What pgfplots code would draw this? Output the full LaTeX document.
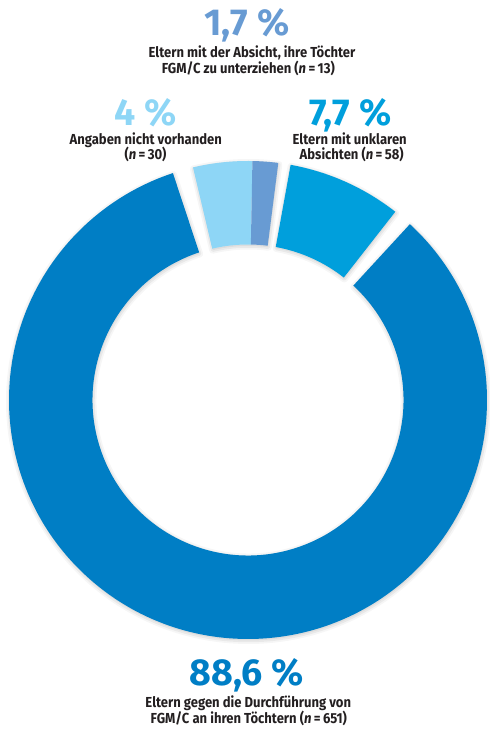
\documentclass[border=0pt]{standalone}
\usepackage{fontspec}
\setmainfont{Fira Sans}
\newfontfamily\labfont{Fira Sans}[FakeStretch=0.9]
\usepackage{pgfplots}
\pgfplotsset{compat=1.18}
\usepackage{pgfplotstable}
\definecolor{cAg}{RGB}{0,126,197}
\definecolor{cUnk}{RGB}{0,159,220}
\definecolor{cNV}{RGB}{142,214,246}
\definecolor{cInt}{RGB}{104,155,211}
\definecolor{txt}{RGB}{35,31,32}

\pgfplotstableread{
key n
nv 30
int 13
unk 58
ag 651
}\slices
\pgfplotstablegetelem{0}{n}\of\slices \let\nNV\pgfplotsretval
\pgfplotstablegetelem{1}{n}\of\slices \let\nInt\pgfplotsretval
\pgfplotstablegetelem{2}{n}\of\slices \let\nUnk\pgfplotsretval
\pgfplotstablegetelem{3}{n}\of\slices \let\nAg\pgfplotsretval
\pgfmathsetmacro\tot{\nNV+\nInt+\nUnk+\nAg}
\def\gA{3.0}\def\gB{4.6}\def\gC{5.0}
\pgfmathsetmacro\aA{103.3}
\pgfmathsetmacro\aB{\aA-\nNV/\tot*360}
\pgfmathsetmacro\aC{\aB-\nInt/\tot*360}
\pgfmathsetmacro\aD{\aC-\gA}
\pgfmathsetmacro\aE{\aD-\nUnk/\tot*360}
\pgfmathsetmacro\aF{\aE-\gB}
\pgfmathsetmacro\aG{\aF-\nAg/\tot*360+\gA+\gB+\gC}
\def\Ro{239bp}\def\Ri{155.5bp}
% #1 centre, #2 style, #3 start angle, #4 end angle
\newcommand\sector[4]{%
  \path[#2] ([shift={(#3:\Ro)}]#1) arc[start angle=#3, end angle=#4, radius=\Ro]
    -- ([shift={(#4:\Ri)}]#1) arc[start angle=#4, end angle=#3, radius=\Ri] -- cycle;}
\newcommand\shadowsector[2]{%
  \sector{CS}{fill=black,fill opacity=0.05,draw=black,draw opacity=0.035,line width=7bp,line join=round}{#1}{#2}%
  \sector{CS}{draw=black,draw opacity=0.05,line width=3.5bp,line join=round}{#1}{#2}}

\begin{document}
\begin{tikzpicture}
\begin{axis}[x=1bp,y=1bp,xmin=0,xmax=490,ymin=0,ymax=729,hide axis,clip=false,scale only axis]
\coordinate (BL) at (axis cs:0,0);
\coordinate (TR) at (axis cs:490,729);
\coordinate (C) at (axis cs:248,329);
\coordinate (CS) at (axis cs:248.5,327.5);
\shadowsector{\aA}{\aC}
\shadowsector{\aD}{\aE}
\shadowsector{\aF}{\aG}
\sector{C}{fill=cNV}{\aA}{\aB}
\sector{C}{fill=cInt}{\aB}{\aC}
\sector{C}{fill=cUnk}{\aD}{\aE}
\sector{C}{fill=cAg}{\aF}{\aG}
% percentages and labels
\tikzset{pct/.style={anchor=base,inner sep=0pt,text depth=0pt,font=\fontsize{37.5bp}{40bp}\selectfont\bfseries},
         lab/.style={anchor=base,inner sep=0pt,text height=10.5bp,text depth=1bp,text=txt,font=\labfont\fontsize{14.5bp}{16bp}\selectfont\bfseries}}
\node[pct,text=cInt] at (axis cs:247,693) {1,7 \%};
\node[lab] at (axis cs:252,671.7) {Eltern mit der Absicht, ihre Töchter};
\node[lab] at (axis cs:248.3,655) {FGM/C zu unterziehen (\textit{n}\,=\,13)};
\node[pct,text=cNV] at (axis cs:146,603) {4 \%};
\node[lab] at (axis cs:145.8,584) {Angaben nicht vorhanden};
\node[lab] at (axis cs:145.5,569) {(\textit{n}\,=\,30)};
\node[pct,text=cUnk] at (axis cs:350.5,603) {7,7 \%};
\node[lab] at (axis cs:349.7,584) {Eltern mit unklaren};
\node[lab] at (axis cs:351.7,569) {Absichten (\textit{n}\,=\,58)};
\node[pct,text=cAg] at (axis cs:246.7,43) {88,6 \%};
\node[lab] at (axis cs:248.3,21.7) {Eltern gegen die Durchführung von};
\node[lab] at (axis cs:248.8,5) {FGM/C an ihren Töchtern (\textit{n}\,=\,651)};
\end{axis}
\pgfresetboundingbox
\path (BL) rectangle (TR);
\end{tikzpicture}
\end{document}
